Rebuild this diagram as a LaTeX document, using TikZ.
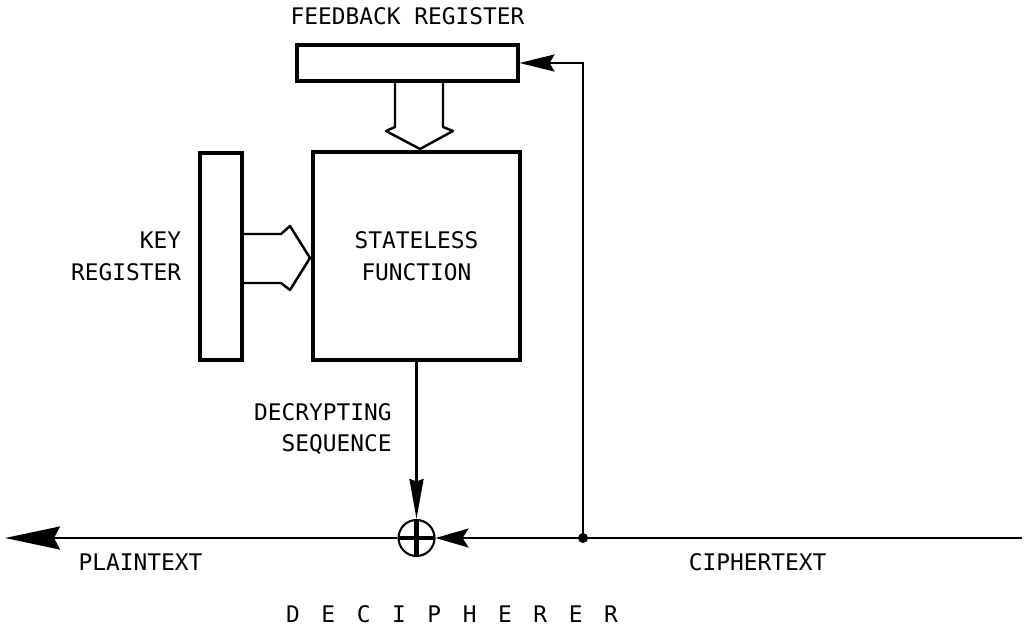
\documentclass[tikz,border=0pt]{standalone}
\usepackage{fontspec}
\usepackage{tikz}
\newfontfamily\leroy{DejaVu Sans Mono}
\usetikzlibrary{arrows.meta, positioning}

\begin{document}
\begin{tikzpicture}[
        x=0.02cm, y=-0.02cm,
        reg/.style={rectangle, draw, line width=1.8pt, inner sep=0pt},
        lbl/.style={font=\leroy\fontsize{13}{18}\selectfont, inner sep=0pt},
        wire/.style={line width=1.3pt},
        bus/.style={line width=1.4pt, line join=round},
        xorgate/.style={circle, draw, line width=1.2pt, minimum size=0.72cm,
                    inner sep=0pt, fill=white,
                    path picture={
                      \draw[line width=2.4pt] (path picture bounding box.north) -- (path picture bounding box.south);
                      \draw[line width=1.8pt] (path picture bounding box.west) -- (path picture bounding box.east);
                    }}
      ]
        \useasboundingbox (0,0) rectangle (1028,629);

        % registers and function block
        \node[reg, minimum width=4.42cm, minimum height=0.72cm] (fbreg)  at (407.5,63)  {};
        \node[reg, minimum width=0.84cm, minimum height=4.14cm] (keyreg) at (221,256.5) {};
        \node[reg, minimum width=4.14cm, minimum height=4.16cm] (func)   at (416.5,256) {};
        \node[xorgate] (xor) at (416.5,538) {};
        \coordinate (tap)  at (583,538);
        \coordinate (cin)  at (1022,538);
        \coordinate (pout) at (5,538);

        % labels
        \node[lbl, above=0.36cm of fbreg] (fblabel) {FEEDBACK REGISTER};
        \node[lbl, align=right, left=0.34cm of keyreg] (keylabel) {KEY\\REGISTER};
        \node[lbl, align=center] (funclabel) at (func) {STATELESS\\FUNCTION};
        \node[lbl, align=right, anchor=east] (seqlabel) at (392,429) {DECRYPTING\\SEQUENCE};
        \node[lbl] (ptlabel) at (140.5,562) {PLAINTEXT};
        \node[lbl] (ctlabel) at (757.5,562) {CIPHERTEXT};
        \node[lbl] (title) at (452,614) {\spaceskip=0.432cm D E C I P H E R E R};

        % wide arrows
        \draw[bus] (242,234) -- (281,234) -- (290,226) -- (310,258) -- (290,290) -- (281,283) -- (242,283);
        \draw[bus] (395,82) -- (395,127) -- (386,131) -- (420,149) -- (453,131) -- (443,127) -- (443,82);

        % signal lines
        \draw[wire, -{Stealth[length=0.8cm, width=0.28cm, inset=0.05cm]}] (func.south) -- (xor.north);
        \draw[wire, -{Stealth[length=0.66cm, width=0.38cm, inset=0.12cm]}] (cin) -- (xor);
        \draw[wire, -{Stealth[length=1.1cm, width=0.46cm, inset=0.12cm]}] (xor) -- (pout);
        \draw[wire, -{Stealth[length=0.7cm, width=0.34cm, inset=0.1cm]}] (tap) |- (fbreg.east);
        \fill (tap) circle[radius=0.1cm];
      \end{tikzpicture}
\end{document}
